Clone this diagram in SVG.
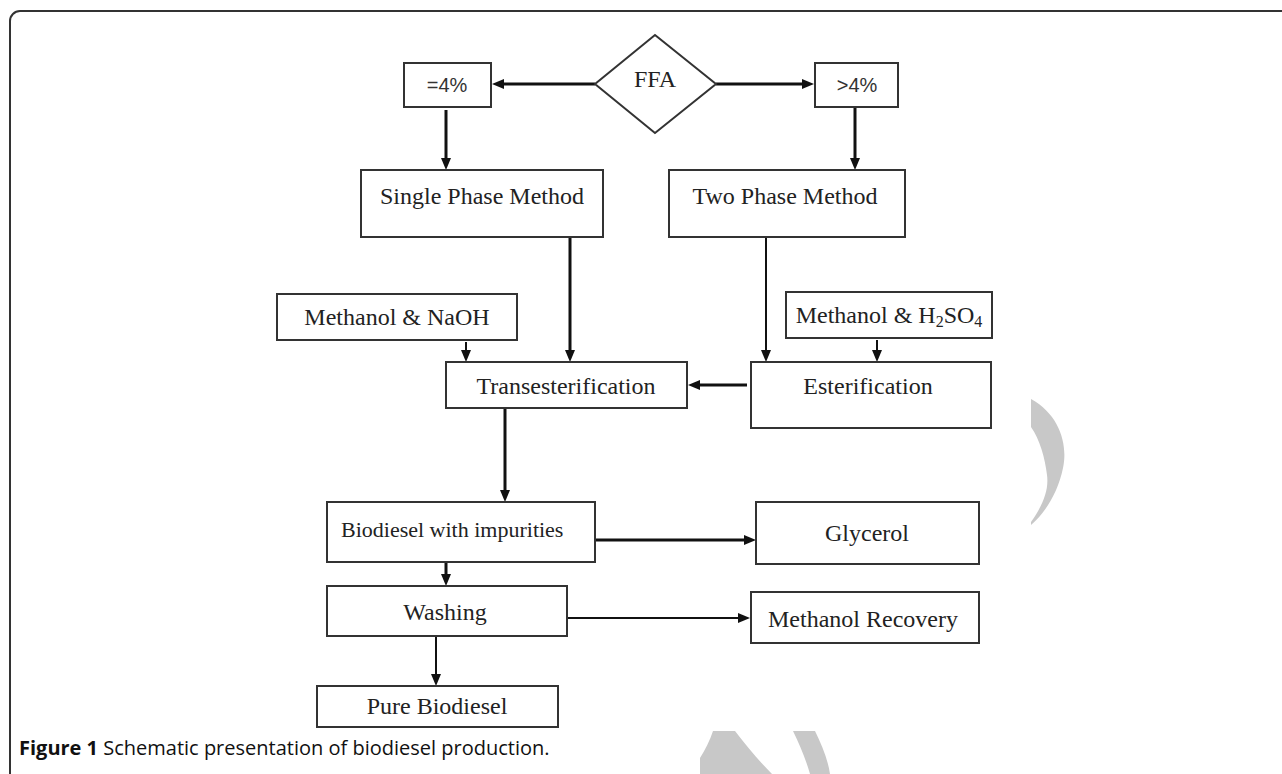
<svg xmlns="http://www.w3.org/2000/svg" width="1282" height="774" viewBox="0 0 1282 774">
<defs>
<style>
.box{fill:#fff;stroke:#333;stroke-width:2}
.t{font-family:"Liberation Serif","Times New Roman",serif;font-size:24px;fill:#222;text-anchor:middle}
.s{font-family:"Liberation Sans",Arial,sans-serif;font-size:20px;fill:#333;text-anchor:middle}
.a{stroke:#111;stroke-width:3;fill:none;marker-end:url(#ah)}
.a2{stroke:#111;stroke-width:2;fill:none;marker-end:url(#ah)}
.wm{fill:#c8c8c8}
</style>
<marker id="ah" markerWidth="12" markerHeight="10" refX="2" refY="5" orient="auto" markerUnits="userSpaceOnUse">
<path d="M0,0 L12,5 L0,10 z" fill="#111"/>
</marker>
</defs>
<rect width="1282" height="774" fill="#fff"/>
<path d="M10,774 V21 A10,10 0 0 1 20,11 H1282" fill="none" stroke="#333" stroke-width="2"/>
<g id="watermark">
<path class="wm" d="M1031,399 C1060,415 1068,445 1063,468 C1058,492 1046,512 1031,525 L1031,522 C1043,505 1049,490 1047,475 C1045,458 1040,440 1031,427 Z"/>
<path class="wm" d="M713,731 L735,731 C748,748 760,762 772,774 L700,774 L700,758 C705,750 710,740 713,731 Z"/>
<path class="wm" d="M793,731 L815,731 C822,745 828,760 830,774 L810,774 C806,760 800,745 793,731 Z"/>
</g>
<g id="connectors">
<line class="a" x1="595" y1="84" x2="502" y2="84"/>
<line class="a" x1="716" y1="84" x2="804" y2="84"/>
<line class="a" x1="446" y1="110" x2="446" y2="160"/>
<line class="a" x1="855" y1="107" x2="855" y2="160"/>
<line class="a" x1="570" y1="237" x2="570" y2="352"/>
<line class="a2" x1="766" y1="237" x2="766" y2="352"/>
<line class="a2" x1="466" y1="342" x2="466" y2="352"/>
<line class="a2" x1="877" y1="340" x2="877" y2="352"/>
<line class="a" x1="747" y1="385" x2="698" y2="385"/>
<line class="a" x1="505" y1="408" x2="505" y2="492"/>
<line class="a" x1="570" y1="540" x2="746" y2="540"/>
<line class="a" x1="446" y1="562" x2="446" y2="576"/>
<line class="a2" x1="567" y1="618" x2="740" y2="618"/>
<line class="a2" x1="436" y1="636" x2="436" y2="676"/>
</g>
<g id="ffa">
<polygon class="box" points="655,35 716,84 655,133 595,84"/>
<text class="t" x="655" y="87">FFA</text>
</g>
<g id="le4">
<rect class="box" x="404" y="63" width="87" height="44"/>
<text class="s" x="447" y="92">=4%</text>
</g>
<g id="gt4">
<rect class="box" x="815" y="63" width="83" height="44"/>
<text class="s" x="857" y="92">&gt;4%</text>
</g>
<g id="single">
<rect class="box" x="361" y="170" width="242" height="67"/>
<text class="t" x="482" y="204">Single Phase Method</text>
</g>
<g id="two">
<rect class="box" x="669" y="170" width="236" height="67"/>
<text class="t" x="785" y="204">Two Phase Method</text>
</g>
<g id="naoh">
<rect class="box" x="277" y="294" width="240" height="46"/>
<text class="t" x="397" y="325">Methanol &amp; NaOH</text>
</g>
<g id="h2so4">
<rect class="box" x="786" y="292" width="206" height="46"/>
<text class="t" x="889" y="323">Methanol &amp; H<tspan font-size="16" dy="4">2</tspan><tspan dy="-4">SO</tspan><tspan font-size="16" dy="4">4</tspan></text>
</g>
<g id="trans">
<rect class="box" x="446" y="362" width="241" height="46"/>
<text class="t" x="566" y="394">Transesterification</text>
</g>
<g id="ester">
<rect class="box" x="751" y="362" width="240" height="66"/>
<text class="t" x="868" y="394">Esterification</text>
</g>
<g id="biodiesel">
<rect class="box" x="327" y="502" width="268" height="60"/>
<text class="t" x="341" y="537" style="text-anchor:start;font-size:22px">Biodiesel with impurities</text>
</g>
<g id="glycerol">
<rect class="box" x="756" y="502" width="223" height="62"/>
<text class="t" x="867" y="541">Glycerol</text>
</g>
<g id="washing">
<rect class="box" x="327" y="586" width="240" height="50"/>
<text class="t" x="445" y="620">Washing</text>
</g>
<g id="recovery">
<rect class="box" x="751" y="592" width="228" height="51"/>
<text class="t" x="863" y="627">Methanol Recovery</text>
</g>
<g id="pure">
<rect class="box" x="317" y="686" width="241" height="41"/>
<text class="t" x="437" y="714">Pure Biodiesel</text>
</g>
<text x="19" y="755" font-family="'Open Sans','Noto Sans',sans-serif" font-size="20" fill="#111"><tspan font-weight="bold">Figure 1</tspan> Schematic presentation of biodiesel production.</text>
</svg>
